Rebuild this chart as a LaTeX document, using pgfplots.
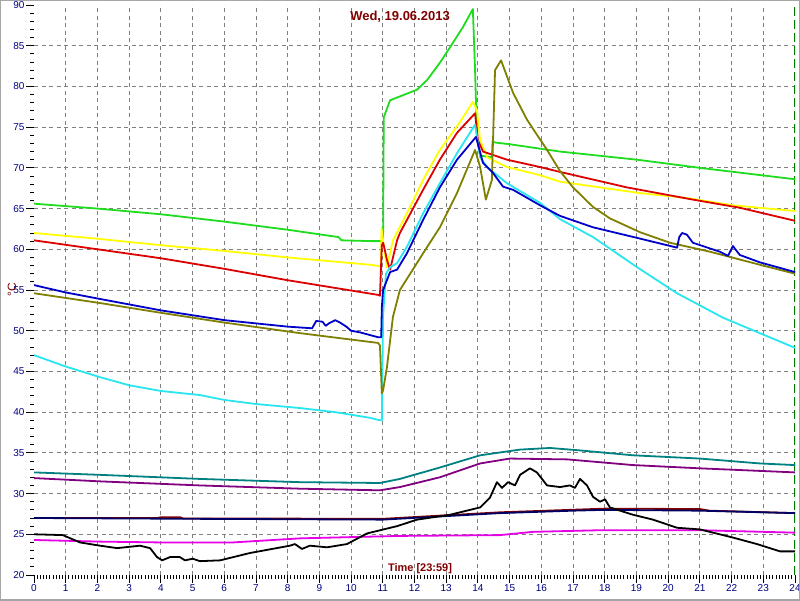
\documentclass[border=0pt]{standalone}
\usepackage{fontspec}
\setmainfont{Liberation Sans}
\usepackage{pgfplots}
\pgfplotsset{compat=1.18}
\definecolor{cgreen}{RGB}{30,220,30}
\definecolor{cyellow}{RGB}{255,255,0}
\definecolor{cred}{RGB}{220,0,0}
\definecolor{ccyan}{RGB}{40,230,240}
\definecolor{cblue}{RGB}{0,0,200}
\definecolor{colive}{RGB}{128,128,0}
\definecolor{cteal}{RGB}{0,128,128}
\definecolor{cpurple}{RGB}{128,0,128}
\definecolor{cnavy}{RGB}{0,0,100}
\definecolor{cdarkred}{RGB}{128,0,0}
\definecolor{cmagenta}{RGB}{230,0,230}
\definecolor{ticknavy}{RGB}{0,0,128}
\definecolor{marker}{RGB}{0,120,0}
\begin{document}
\begin{tikzpicture}
\useasboundingbox (0,0) rectangle (800pt,600pt);
\begin{axis}[
    at={(34pt,25pt)}, anchor=south west,
    scale only axis, width=761pt, height=570pt,
    xmin=0, xmax=24, ymin=20, ymax=90,
    axis line style={draw=none},
    tick pos=left, tick align=outside,
    xtick={0,...,24}, ytick={20,25,...,90},
    minor x tick num=9, minor y tick num=4,
    major tick length=8pt, minor tick length=4pt,
    every tick/.style={black, line width=0.9pt},
    extra x ticks={1,...,23}, extra x tick labels={},
    extra y ticks={25,30,...,85}, extra y tick labels={},
    extra tick style={grid=major, major tick length=0pt},
    major grid style={gray, line width=0.9pt, dash pattern=on 4pt off 3.5pt},
    /pgf/number format/assume math mode=true,
    ticklabel style={font=\fontsize{10}{12}\selectfont, text=ticknavy},
    xticklabel style={yshift=2pt},
    yticklabel style={xshift=2pt},
    every axis plot/.append style={line width=1.8pt, line join=round},
]
\addplot[marker, line width=1.2pt, dash pattern=on 9pt off 4pt] coordinates {(24,20) (24,90)};

% lower sensors
\addplot[cteal] coordinates {(0,32.6) (2.08,32.3) (5.23,31.8) (8.39,31.4) (10.91,31.3) (11.54,31.8) (12.8,33.2) (14.07,34.7) (15.33,35.4) (16.27,35.6) (17.22,35.3) (18.89,34.7) (21.0,34.3) (22.89,33.7) (24,33.5)};
\addplot[cpurple] coordinates {(0,31.9) (2.08,31.5) (5.23,31.0) (8.39,30.6) (10.91,30.4) (11.54,30.8) (12.8,32.0) (14.07,33.7) (15.01,34.3) (16.81,34.2) (18.89,33.5) (21.0,33.1) (24,32.6)};
\addplot[cdarkred] coordinates {(0,27.0) (3.9,27.0) (4.0,27.1) (4.6,27.1) (4.7,26.95) (11,26.9) (14.7,27.7) (18.0,28.15) (21,28.1) (21.3,27.9) (24,27.6)};
\addplot[cnavy] coordinates {(0,27.0) (5,26.9) (11,26.8) (14.7,27.6) (17,27.9) (18,28.0) (21,27.9) (24,27.6)};
\addplot[cmagenta] coordinates {(0,24.3) (2.08,24.1) (3.97,24.0) (6.28,24.0) (8.39,24.5) (11.54,24.8) (14.7,24.9) (15.74,25.3) (17.85,25.5) (21.0,25.5) (24,25.2)};
\addplot[black] coordinates {(0,25.0) (0.91,24.9) (1.45,24.0) (2.08,23.6) (2.62,23.3) (3.34,23.6) (3.66,23.3) (3.88,22.2) (4.04,21.8) (4.29,22.2) (4.6,22.2) (4.76,21.8) (5.01,22.0) (5.23,21.7) (5.87,21.8) (6.81,22.7) (8.07,23.6) (8.23,23.8) (8.45,23.2) (8.7,23.6) (9.24,23.4) (9.87,23.8) (10.5,25.1) (11.13,25.7) (11.45,26.0) (12.08,26.8) (13.12,27.4) (14.07,28.3) (14.38,29.5) (14.6,31.4) (14.76,30.7) (14.95,31.4) (15.17,31.0) (15.33,32.3) (15.64,33.1) (15.86,32.6) (16.18,31.0) (16.59,30.8) (16.9,31.0) (17.06,30.7) (17.22,31.8) (17.44,31.0) (17.63,29.6) (17.85,29.0) (18.01,29.3) (18.16,28.3) (18.89,27.4) (19.52,26.8) (20.28,25.8) (21.0,25.6) (22.04,24.6) (22.8,23.8) (23.53,22.9) (24,22.9)};

% upper sensors
\addplot[cgreen] coordinates {(0,65.6) (2,65.0) (4,64.3) (6,63.4) (8,62.4) (9.6,61.5) (9.7,61.1) (10.66,61.0) (11.0,61.0) (11.01,62.0) (11.03,76.2) (11.23,78.3) (12.08,79.6) (12.4,80.8) (12.8,82.9) (13.12,84.8) (13.53,87.3) (13.84,89.5) (13.91,82.0) (13.97,73.8) (14.07,71.5) (14.44,71.3) (14.46,73.2) (14.57,73.1) (15.0,72.9) (16.59,72.0) (19.02,71.0) (21.0,70.0) (24,68.6)};
\addplot[cyellow] coordinates {(0,62.0) (2,61.3) (4,60.5) (6,59.8) (8,59.0) (10.6,58.1) (10.94,57.9) (10.96,62.6) (11.01,61.0) (11.1,58.5) (11.13,57.8) (11.32,61.1) (11.76,64.4) (12.27,68.5) (12.8,72.2) (13.43,75.6) (13.84,78.1) (13.97,77.1) (14.07,73.4) (14.29,71.3) (14.92,70.1) (15.96,69.1) (16.59,68.3) (19.11,66.9) (20.59,66.3) (22.04,65.4) (24,64.7)};
\addplot[cred] coordinates {(0,61.1) (2,60.0) (4,58.9) (6,57.6) (8,56.2) (10.85,54.4) (10.91,54.3) (10.97,60.5) (11.01,60.8) (11.06,60.0) (11.13,58.7) (11.23,57.5) (11.45,61.1) (11.54,62.0) (12.27,67.3) (12.8,71.0) (13.34,74.3) (13.91,76.7) (14.0,73.4) (14.16,72.0) (14.92,71.0) (15.96,70.1) (16.59,69.5) (18.7,67.6) (20.78,66.1) (22.26,65.1) (24,63.5)};
\addplot[ccyan] coordinates {(0,47.0) (1,45.6) (2.08,44.3) (3,43.3) (4,42.6) (5.23,42.1) (6,41.5) (7,41.0) (8.39,40.5) (9.5,40.0) (10.6,39.3) (10.91,39.0) (10.97,39.0) (10.99,45.5) (11.01,52.0) (11.1,57.0) (11.23,57.8) (11.45,58.3) (11.76,60.3) (12.27,64.4) (12.8,68.1) (13.34,71.8) (13.91,75.3) (14.07,71.3) (14.29,70.1) (14.92,68.1) (15.96,65.7) (16.59,63.7) (17.63,61.5) (19.02,57.8) (20.28,54.6) (21.73,51.6) (22.89,49.7) (24,47.9)};
\addplot[colive] coordinates {(0,54.6) (2.08,53.4) (4,52.2) (6,51.0) (8.39,49.7) (10.85,48.5) (10.91,48.2) (10.97,42.3) (11.01,42.7) (11.13,45.5) (11.32,51.7) (11.54,55.0) (12.27,59.5) (12.8,62.7) (13.34,66.9) (13.91,72.2) (14.07,70.1) (14.25,66.1) (14.44,68.5) (14.54,82.0) (14.73,83.2) (15.11,79.2) (15.55,75.9) (16.18,72.2) (16.59,69.6) (17.0,67.6) (17.63,65.2) (18.16,63.8) (19.11,62.1) (20.06,60.8) (21.32,59.7) (22.89,58.1) (24,57.0)};
\addplot[cblue] coordinates {(0,55.6) (1,54.7) (2.08,53.9) (4,52.5) (6,51.3) (8.0,50.5) (8.77,50.3) (8.9,51.2) (9.1,51.1) (9.2,50.6) (9.3,50.9) (9.5,51.3) (9.65,51.0) (9.85,50.5) (10.0,50.0) (10.28,49.8) (10.85,49.2) (10.95,49.2) (10.97,52.9) (11.01,55.0) (11.23,57.2) (11.45,57.5) (11.76,59.5) (12.27,63.6) (12.8,67.6) (13.34,71.0) (13.94,73.8) (14.16,70.6) (14.47,69.4) (14.79,67.7) (15.11,67.3) (15.96,65.4) (16.59,64.1) (17.63,62.7) (19.02,61.4) (20.28,60.2) (20.35,61.5) (20.44,62.0) (20.59,61.8) (20.78,60.8) (21.63,59.7) (21.89,59.2) (22.04,60.4) (22.26,59.3) (22.89,58.4) (24,57.2)};
\end{axis}
\node[text=cdarkred, font=\fontsize{13}{15}\selectfont\bfseries] at (400pt,583pt) {Wed, 19.06.2013};
\node[text=cdarkred, font=\fontsize{11}{13}\selectfont\bfseries] at (420pt,31pt) {Time [23:59]};
\node[text=cdarkred, rotate=90, font=\fontsize{12}{14}\selectfont] at (12pt,310pt) {°C};
\draw[gray!70, line width=2pt] (0,0) rectangle (800pt,600pt);
\end{tikzpicture}
\end{document}
